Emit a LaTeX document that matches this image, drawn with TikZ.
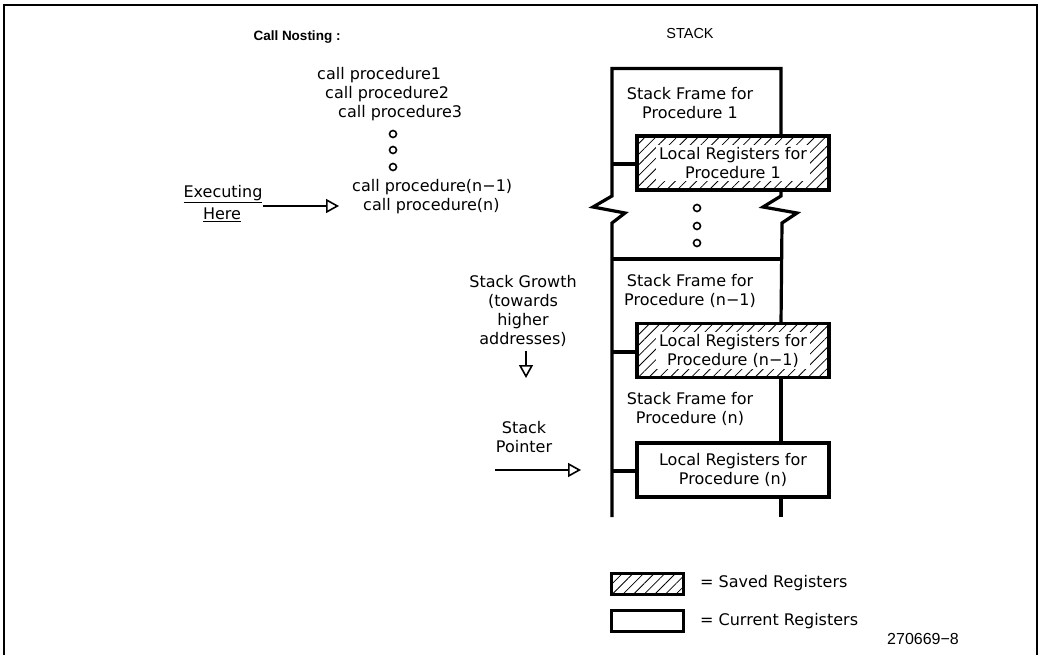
\documentclass[tikz,border=0pt]{standalone}
\usepackage{fontspec}
\setmainfont{DejaVu Sans}
\newfontfamily\helv{Liberation Sans}
\usetikzlibrary{arrows.meta,patterns.meta}
\begin{document}
\begin{tikzpicture}[x=1pt,y=-1pt,
  txt/.style={font=\fontsize{16}{19}\selectfont, inner sep=0pt, align=center},
  stk/.style={line width=3.2pt},
  regbox/.style={draw, line width=3.2pt, minimum width=192pt, minimum height=54pt, inner sep=0pt},
  saved/.style={regbox, pattern={Lines[angle=45,distance=7.5pt,line width=0.8pt]}},
  clear/.style={txt, fill=white, inner xsep=3pt, inner ysep=2pt},
  arr/.style={line width=2.2pt, -{Triangle[open,length=13pt,width=14pt,line width=1.6pt]}},
  cdot/.style={circle, draw, line width=1.6pt, minimum size=7pt, inner sep=0pt},
]
\useasboundingbox (0,0) rectangle (1042,655);
\draw[line width=1.4pt] (4,665) -- (4,5) -- (1037,5) -- (1037,665);

% headers
\node[font=\helv\bfseries\fontsize{13.5}{16}\selectfont, inner sep=0pt] (hdrcall) at (297,37) {Call Nosting :};
\node[font=\helv\fontsize{14.5}{16}\selectfont, inner sep=0pt] (hdrstack) at (690,34) {STACK};

% call nesting
\node[txt, anchor=west] (c1) at (317,75) {call procedure1};
\node[txt, anchor=west] (c2) at (325,94) {call procedure2};
\node[txt, anchor=west] (c3) at (338,113) {call procedure3};
\node[cdot] (cd1) at (393,134) {};
\node[cdot] (cd2) at (393,150) {};
\node[cdot] (cd3) at (393,167) {};
\node[txt, anchor=west] (cn1) at (352,187) {call procedure(n−1)};
\node[txt, anchor=west] (cn) at (363,206) {call procedure(n)};

\node[txt] (exec) at (223,194) {\underline{Executing}};
\node[txt] (here) at (222,215) {\underline{Here}};
\coordinate (execarr) at (263,206);
\draw[arr, shorten >=24pt] (execarr) -- (cn.west);

% stack growth
\node[txt, align=center] (growth) at (523,311) {Stack Growth\\(towards\\higher\\addresses)};
\coordinate (growthend) at (526,378);
\draw[arr] (growth.south -| growthend) ++(0,4) -- (growthend);

\node[txt] (sp) at (524,437) {Stack\\Pointer};
\coordinate (sparr) at (495,470);
\coordinate (sptip) at (581,470);

% stack outline
\draw[stk] (612,517) -- (612,223) -- (625,213) -- (593,207) -- (612,196) -- (612,68.5) -- (781,68.5) -- (781,136);
\draw[stk] (781,190) -- (781,196) -- (763,207) -- (797,213) -- (782,223) -- (781,324);
\draw[stk] (612,259) -- (781,259);
\draw[stk] (781,377) -- (781,443);
\draw[stk] (781,497) -- (781,517);

\node[txt] (sf1) at (690,103) {Stack Frame for\\Procedure 1};
\node[cdot] (sd1) at (697,208) {};
\node[cdot] (sd2) at (697,226) {};
\node[cdot] (sd3) at (697,243) {};
\node[txt] (sfn1) at (690,291) {Stack Frame for\\Procedure (n−1)};
\node[txt] (sfn) at (690,409) {Stack Frame for\\Procedure (n)};

\node[saved] (lr1) at (733,163) {};
\node[clear] (lr1t) at (lr1.center) {Local Registers for\\Procedure 1};
\node[saved] (lrn1) at (733,350.5) {};
\node[clear] (lrn1t) at (lrn1.center) {Local Registers for\\Procedure (n−1)};
\node[regbox, txt, minimum width=192pt, minimum height=54pt] (lrn) at (733,470) {Local Registers for\\Procedure (n)};

\draw[stk] (612,164) -- (lr1.west |- 612,164);
\draw[stk] (612,352) -- (lrn1.west |- 612,352);
\draw[stk] (612,471) -- (lrn.west |- 612,471);

\draw[arr] (sparr) -- (sptip);

% legend
\node[draw, line width=3pt, minimum width=72pt, minimum height=21pt, inner sep=0pt, pattern={Lines[angle=45,distance=7.5pt,line width=0.8pt]}] (legs) at (647,583.5) {};
\node[txt, anchor=west] (legst) at (700,583.5) {= Saved Registers};
\node[draw, line width=3pt, minimum width=72pt, minimum height=21pt, inner sep=0pt] (legc) at (647,621) {};
\node[txt, anchor=west] (legct) at (700,621) {= Current Registers};

\node[font=\helv\fontsize{16}{18}\selectfont, inner sep=0pt, anchor=west] (fig) at (887,639) {270669−8};
\end{tikzpicture}
\end{document}
